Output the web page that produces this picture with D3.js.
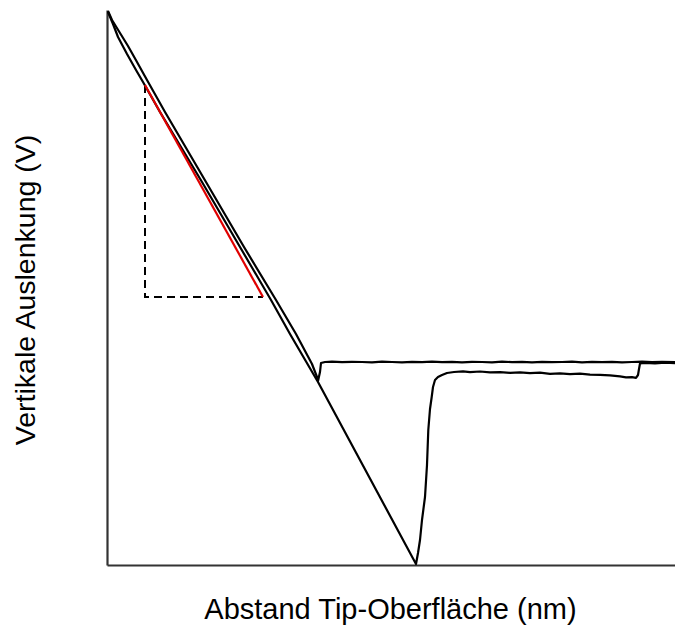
<!DOCTYPE html>
<html>
<head>
<meta charset="utf-8">
<script src="https://cdn.jsdelivr.net/npm/d3@7"></script>
<style>
  body { margin: 0; background: #fff; }
  text { font-family: "Liberation Sans", Arial, sans-serif; }
</style>
</head>
<body>
<svg width="675" height="626"></svg>
<script>
// distance (arbitrary units) and deflection (arbitrary units)
const approachX = [1, 5, 13, 21, 30, 40, 58, 99, 137, 169, 189, 205, 210, 211, 213, 214, 218,
  225, 235, 245, 255, 265, 275, 285, 295, 305, 315, 325, 335, 345, 355, 365, 375, 385, 395, 405, 415,
  425, 435, 445, 455, 465, 475, 485, 495, 505, 515, 525, 535, 545, 555, 568];
const approachY = [554, 545, 532, 519, 503, 485, 453, 383, 318, 265, 231, 201, 188, 184, 193, 202, 203,
  203.4, 202.8, 203.2, 203, 202.6, 203.3, 203, 202.7, 203.2, 202.9, 203.3, 202.8, 203.1, 202.7, 203.2, 203, 202.6, 203.3, 202.9, 203.1,
  202.7, 203.2, 202.8, 203, 203.3, 202.7, 203.1, 202.9, 203.2, 202.6, 203, 203.3, 202.8, 203.1, 202.9];

const retractX = [1, 6, 11, 20, 29, 36, 53, 95, 133, 164, 183, 211, 309,
  311, 313, 315, 318, 320, 321.3, 323, 324.7, 326, 328, 331, 335, 340, 347, 356, 363, 373, 383, 393, 403,
  413, 423, 433, 443, 453, 463, 473, 483, 493, 503, 513, 519, 525, 529, 531, 532, 533, 538, 548, 558, 568];
const retractY = [553, 541, 528, 511, 495, 483, 453, 383, 318, 265, 231, 183, 1,
  12, 25, 45, 68, 100, 135, 156, 168, 178, 185, 188, 190, 192, 193, 193.6, 192.8, 193.5, 192.6, 192.9, 192.2,
  192.7, 191.8, 192.3, 191.2, 191.6, 190.8, 191.3, 190.4, 190.1, 189.6, 188.6, 187.6, 187.9, 187.2, 190, 196, 201.5, 202, 201.7, 202.3, 201.9];

// fit line and the slope triangle
const fitX = [38, 156];
const fitY = [480, 268];
const triX = [38, 38, 156];
const triY = [480, 268, 268];

const svg = d3.select('svg');
const margin = {top: 10, left: 107, bottom: 61, right: 0};
const W = +svg.attr('width'), H = +svg.attr('height');

const x = d3.scaleLinear().domain([0, 568]).range([margin.left, W - margin.right]);
const y = d3.scaleLinear().domain([0, 555]).range([H - margin.bottom, margin.top]);

const axisColor = '#333';

const xAxis = svg.append('g')
  .attr('transform', 'translate(0,' + (H - margin.bottom) + ')')
  .call(d3.axisBottom(x).ticks(0).tickSizeOuter(0));
const yAxis = svg.append('g')
  .attr('transform', 'translate(' + margin.left + ',0)')
  .call(d3.axisLeft(y).ticks(0).tickSizeOuter(0));
[xAxis, yAxis].forEach(a => a.select('.domain').attr('stroke', axisColor).attr('stroke-width', 2.2));

const line = d3.line().x(d => x(d[0])).y(d => y(d[1]));

svg.append('path')
  .datum(triX.map((v, i) => [v, triY[i]]))
  .attr('d', line)
  .attr('fill', 'none')
  .attr('stroke', '#000')
  .attr('stroke-width', 2)
  .attr('stroke-dasharray', '8,5');

svg.append('path')
  .datum(retractX.map((v, i) => [v, retractY[i]]))
  .attr('d', line)
  .attr('fill', 'none')
  .attr('stroke', '#000')
  .attr('stroke-width', 2.2)
  .attr('stroke-linejoin', 'round');

svg.append('path')
  .datum(approachX.map((v, i) => [v, approachY[i]]))
  .attr('d', line)
  .attr('fill', 'none')
  .attr('stroke', '#000')
  .attr('stroke-width', 2.2)
  .attr('stroke-linejoin', 'round');

svg.append('path')
  .datum(fitX.map((v, i) => [v, fitY[i]]))
  .attr('d', line)
  .attr('fill', 'none')
  .attr('stroke', '#e00000')
  .attr('stroke-width', 2.2);

svg.append('text')
  .attr('x', 390.5)
  .attr('y', 619)
  .attr('text-anchor', 'middle')
  .style('font-size', '29px')
  .text('Abstand Tip-Oberfläche (nm)');

svg.append('text')
  .attr('transform', 'translate(35,290) rotate(-90)')
  .attr('text-anchor', 'middle')
  .style('font-size', '28.5px')
  .text('Vertikale Auslenkung (V)');
</script>
</body>
</html>
